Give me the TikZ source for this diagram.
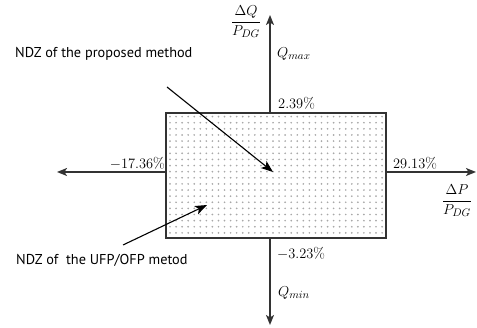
\documentclass[tikz,border=0pt]{standalone}
\usepackage{amsmath}
\usepackage{fontspec}
\newfontfamily\labelfont{PT Sans}
\usetikzlibrary{arrows.meta}
\definecolor{axisgray}{HTML}{333333}
\definecolor{dotgray}{HTML}{A8A8A8}
\tikzset{
  axis/.style={draw=axisgray, line width=1.5pt, -{Stealth[length=10pt,width=8pt,inset=2.5pt]}},
  pointer/.style={draw=black, line width=1.1pt, -{Stealth[length=12pt,width=9pt,inset=3pt]}},
  mlabel/.style={inner sep=0pt, font=\fontsize{15}{18}\selectfont},
  tlabel/.style={inner sep=0pt, anchor=west, font=\labelfont\fontsize{14.3}{16}\selectfont},
  ndzbox/.style={draw=axisgray, line width=1.4pt, minimum width=220pt, minimum height=125pt, inner sep=0pt}
}
\begin{document}
\begin{tikzpicture}[x=1pt,y=-1pt]
\useasboundingbox (0,0) rectangle (477,328);
% dots
\foreach \i in {0,...,35}{
  \foreach \j in {0,...,19}{
    \fill[dotgray] ({170+6.06*\i},{116.6+6.12*\j}) circle (0.95pt);
  }
}
\node[ndzbox] (box) at (276,175.5) {};
% axis end points
\coordinate (qtop) at (270,15);
\coordinate (qbot) at (270,325);
\coordinate (pleft) at (57,172);
\coordinate (pright) at (476,172);
\draw[axis] (box.north -| qtop) -- (qtop);
\draw[axis] (box.south -| qbot) -- (qbot);
\draw[axis] (box.west |- pleft) -- (pleft);
\draw[axis] (box.east |- pright) -- (pright);
% labels
\node[mlabel] (dq) at (246,22) {$\dfrac{\Delta Q}{P_{DG}}$};
\node[mlabel, anchor=west] (qmax) at (277,54) {$Q_{max}$};
\node[mlabel, anchor=west] (up) at (278,103) {$2.39\%$};
\node[mlabel, anchor=east] (left) at (165,163) {$-17.36\%$};
\node[mlabel, anchor=west] (right) at (393,163) {$29.13\%$};
\node[mlabel] (dp) at (457,201) {$\dfrac{\Delta P}{P_{DG}}$};
\node[mlabel, anchor=west] (down) at (277,253) {$-3.23\%$};
\node[mlabel, anchor=west] (qmin) at (278,293) {$Q_{min}$};
\node[tlabel] (prop) at (15,54) {NDZ of the proposed method};
\node[tlabel] (ufp) at (16,260) {NDZ of\ \ the UFP/OFP metod};
% pointers
\coordinate (p1s) at (167,87);
\coordinate (p1e) at (273,172);
\coordinate (p2s) at (123,245);
\coordinate (p2e) at (207,205);
\draw[pointer] (p1s) -- (p1e);
\draw[pointer] (p2s) -- (p2e);
\end{tikzpicture}
\end{document}
